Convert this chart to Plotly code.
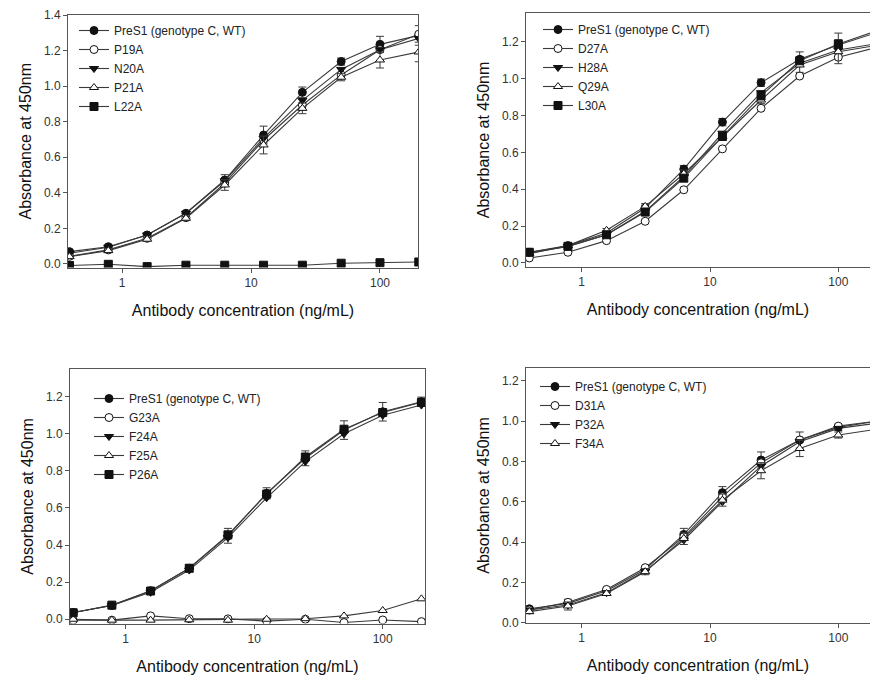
import plotly.graph_objects as go

conc = [0.390625, 0.78125, 1.5625, 3.125, 6.25, 12.5, 25, 50, 100, 200]

# Panel A
a_names = ["PreS1 (genotype C, WT)", "P19A", "N20A", "P21A", "L22A"]
a_wt   = [0.069, 0.097, 0.163, 0.285, 0.472, 0.725, 0.965, 1.138, 1.235, 1.285]
a_p19  = [0.043, 0.079, 0.144, 0.260, 0.455, 0.697, 0.894, 1.063, 1.205, 1.292]
a_n20  = [0.060, 0.094, 0.163, 0.285, 0.468, 0.707, 0.920, 1.094, 1.205, 1.268]
a_p21  = [0.041, 0.075, 0.139, 0.257, 0.444, 0.669, 0.875, 1.050, 1.147, 1.192]
a_l22  = [-0.009, -0.002, -0.015, -0.007, -0.007, -0.007, -0.007, 0.004, 0.007, 0.011]
a_err  = [0.010, 0.010, 0.010, 0.010, 0.030, 0.050, 0.030, 0.020, 0.045, 0.055]

# Panel B
b_names = ["PreS1 (genotype C, WT)", "D27A", "H28A", "Q29A", "L30A"]
b_wt   = [0.058, 0.094, 0.162, 0.298, 0.509, 0.764, 0.978, 1.105, 1.182, 1.250]
b_d27  = [0.027, 0.058, 0.121, 0.226, 0.397, 0.619, 0.839, 1.014, 1.116, 1.170]
b_h28  = [0.054, 0.090, 0.153, 0.280, 0.469, 0.704, 0.924, 1.083, 1.155, 1.190]
b_q29  = [0.050, 0.094, 0.177, 0.307, 0.484, 0.686, 0.884, 1.074, 1.146, 1.180]
b_l30  = [0.058, 0.090, 0.153, 0.276, 0.460, 0.686, 0.906, 1.097, 1.188, 1.260]
b_err  = [0.010, 0.010, 0.010, 0.015, 0.020, 0.020, 0.020, 0.040, 0.065, 0.030]

# Panel C
c_names = ["PreS1 (genotype C, WT)", "G23A", "F24A", "F25A", "P26A"]
c_wt   = [0.036, 0.074, 0.154, 0.275, 0.450, 0.679, 0.868, 1.020, 1.119, 1.173]
c_g23  = [-0.005, -0.005, 0.018, 0.003, 0.002, -0.010, 0.000, -0.018, -0.004, -0.013]
c_f24  = [0.036, 0.074, 0.145, 0.265, 0.440, 0.655, 0.850, 1.000, 1.100, 1.155]
c_f25  = [0.000, -0.005, -0.005, -0.003, -0.005, 0.000, 0.003, 0.018, 0.047, 0.110]
c_p26  = [0.035, 0.076, 0.152, 0.275, 0.455, 0.675, 0.875, 1.025, 1.115, 1.170]
c_err  = [0.010, 0.010, 0.015, 0.020, 0.040, 0.030, 0.040, 0.050, 0.050, 0.025]

# Panel D
d_names = ["PreS1 (genotype C, WT)", "D31A", "P32A", "F34A"]
d_wt   = [0.069, 0.096, 0.159, 0.264, 0.438, 0.645, 0.807, 0.906, 0.969, 1.000]
d_d31  = [0.063, 0.101, 0.165, 0.273, 0.426, 0.625, 0.793, 0.906, 0.975, 1.000]
d_p32  = [0.063, 0.088, 0.149, 0.256, 0.410, 0.600, 0.777, 0.898, 0.964, 0.990]
d_f34  = [0.055, 0.083, 0.145, 0.253, 0.418, 0.608, 0.754, 0.864, 0.931, 0.960]
d_err  = [0.010, 0.020, 0.010, 0.015, 0.030, 0.030, 0.040, 0.040, 0.015, 0.015]

symbols = ["circle", "circle", "triangle-down", "triangle-up", "square"]
fills = ["#111111", "white", "#111111", "white", "#111111"]

LINE = "#3a3a3a"
FONT = "Arial, Liberation Sans, sans-serif"

fig = go.Figure()

panels = [
    (a_names, [a_wt, a_p19, a_n20, a_p21, a_l22], a_err, "x", "y", "legend"),
    (b_names, [b_wt, b_d27, b_h28, b_q29, b_l30], b_err, "x2", "y2", "legend2"),
    (c_names, [c_wt, c_g23, c_f24, c_f25, c_p26], c_err, "x3", "y3", "legend3"),
    (d_names, [d_wt, d_d31, d_p32, d_f34], d_err, "x4", "y4", "legend4"),
]

for names, series, err, xa, ya, lg in panels:
    for i, (nm, vals) in enumerate(zip(names, series)):
        show_err = i in (0, 3) and max(vals) > 0.3
        fig.add_trace(go.Scatter(
            x=conc, y=vals, name=nm, mode="lines+markers",
            xaxis=xa, yaxis=ya, legend=lg,
            line=dict(color=LINE, width=1.1),
            marker=dict(symbol=symbols[i], size=8, color=fills[i],
                        line=dict(color="#111111", width=1)),
            error_y=dict(type="data", array=err, visible=show_err,
                         color=LINE, thickness=1, width=4),
        ))

W, H = 870, 677

def px_x(v):
    return v / W

def px_y(v):
    return 1 - v / H

common_x = dict(type="log", showgrid=False, zeroline=False, showline=True,
                linecolor="#555555", linewidth=1, ticks="outside", ticklen=4,
                tickcolor="#555555", tickvals=[1, 10, 100], ticktext=["1", "10", "100"],
                tickfont=dict(family=FONT, size=12, color="#333333"), automargin=False,
                title=dict(text="Antibody concentration (ng/mL)",
                           font=dict(family=FONT, size=16, color="#111111"), standoff=15))
common_y = dict(showgrid=False, zeroline=False, showline=True,
                linecolor="#555555", linewidth=1, ticks="outside", ticklen=4,
                tickcolor="#555555", dtick=0.2, tickformat=".1f", automargin=False,
                tickfont=dict(family=FONT, size=12, color="#333333"),
                title=dict(text="Absorbance at 450nm",
                           font=dict(family=FONT, size=16, color="#111111"), standoff=8))

layout = dict(
    width=W, height=H, margin=dict(l=0, r=0, t=0, b=0, autoexpand=False),
    paper_bgcolor="white", plot_bgcolor="white", showlegend=True,
    xaxis=dict(common_x, domain=[px_x(68), px_x(418)], range=[-0.42, 2.295],
               anchor="y", mirror=True),
    yaxis=dict(common_y, domain=[px_y(267.5), px_y(15)], range=[-0.02, 1.4],
               anchor="x", mirror=True),
    xaxis2=dict(common_x, domain=[px_x(526), 1.0], range=[-0.434, 2.247],
                anchor="y2", mirror=True),
    yaxis2=dict(common_y, domain=[px_y(267), px_y(13)], range=[-0.022, 1.356],
                anchor="x2", mirror=False),
    xaxis3=dict(common_x, domain=[px_x(70), px_x(425)], range=[-0.433, 2.329],
                anchor="y3", mirror=True),
    yaxis3=dict(common_y, domain=[px_y(623.5), px_y(369.3)], range=[-0.023, 1.348],
                anchor="x3", mirror=True),
    xaxis4=dict(common_x, domain=[px_x(526), 1.0], range=[-0.434, 2.247],
                anchor="y4", mirror=True),
    yaxis4=dict(common_y, domain=[px_y(622.7), px_y(368.3)], range=[0, 1.262],
                anchor="x4", mirror=False),
)

def leg(x, y):
    return dict(x=x, y=y, xanchor="left", yanchor="top",
                bgcolor="rgba(0,0,0,0)", borderwidth=0,
                font=dict(family=FONT, size=12, color="#222222"),
                tracegroupgap=0, itemwidth=30)

layout["legend"] = leg(px_x(74), px_y(16))
layout["legend2"] = leg(px_x(538), px_y(15))
layout["legend3"] = leg(px_x(89), px_y(384))
layout["legend4"] = leg(px_x(535), px_y(372))

fig.update_layout(**layout)
fig.write_html("out.html", config={"displayModeBar": False},
               post_script="document.body.style.margin='0';document.body.style.overflow='hidden';")
